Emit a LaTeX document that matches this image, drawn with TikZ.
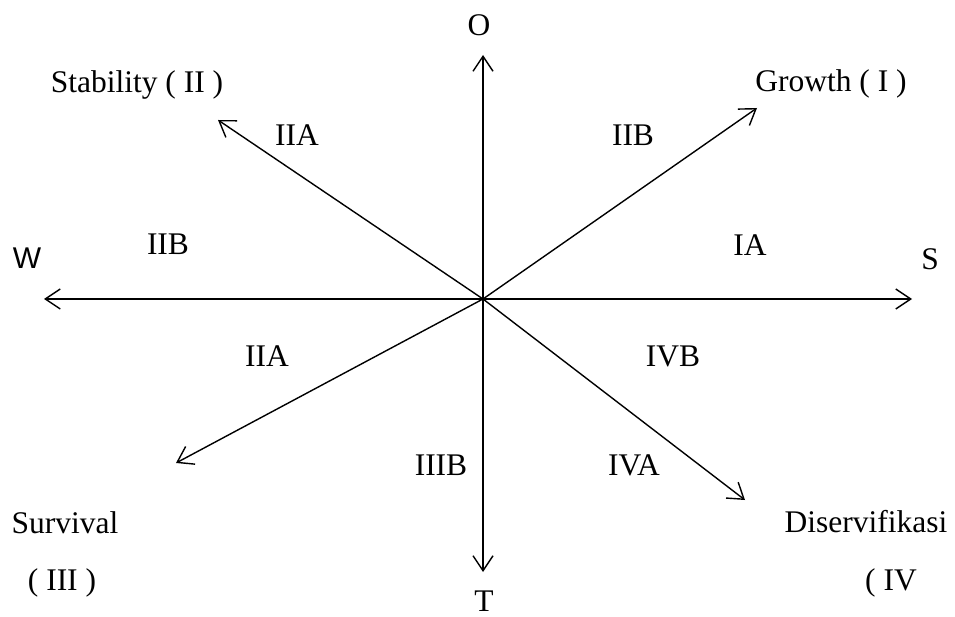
\documentclass[tikz,border=0pt]{standalone}
\usepackage{fontspec}
\setmainfont{Liberation Serif}
\newfontfamily\wsans{Liberation Sans}
\usetikzlibrary{arrows.meta}
\begin{document}
\begin{tikzpicture}[x=1pt,y=-1pt,
  axis/.style={line width=1.4pt,-{Straight Barb[length=15pt,width=20pt,line width=1.4pt]}},
  lbl/.style={anchor=base,inner sep=0pt,font=\fontsize{31.5}{38}\selectfont}]
\useasboundingbox (0,0) rectangle (955,617);
\coordinate (c) at (483,299);
\coordinate (eW) at (44,299);
\coordinate (eS) at (912,299);
\coordinate (eO) at (483,55);
\coordinate (eT) at (483,572);
\coordinate (eI) at (757,108);
\coordinate (eII) at (218,120);
\coordinate (eIII) at (176,463);
\coordinate (eIV) at (745,500);
\draw[axis] (c) -- (eW);
\draw[axis] (c) -- (eS);
\draw[axis] (c) -- (eO);
\draw[axis] (c) -- (eT);
\draw[axis] (c) -- (eI);
\draw[axis] (c) -- (eII);
\draw[axis] (c) -- (eIII);
\draw[axis] (c) -- (eIV);
\node[lbl] (lO) at (479,36) {O};
\node[lbl] (lT) at (484,611) {T};
\node[lbl,font=\fontsize{30}{36}\selectfont\wsans] (lW) at (27,269) {W};
\node[lbl] (lS) at (930,270) {S};
\node[lbl] (lStab) at (137,93) {Stability ( II )};
\node[lbl] (lGrow) at (831,92) {Growth ( I )};
\node[lbl] (lSurv) at (65,533) {Survival};
\node[lbl] (lSurv2) at (62,590) {( III )};
\node[lbl] (lDis) at (866,532) {Diservifikasi};
\node[lbl] (lDis2) at (891,590) {( IV};
\node[lbl] (q1) at (297,146) {IIA};
\node[lbl] (q2) at (633,146) {IIB};
\node[lbl] (q3) at (168,255) {IIB};
\node[lbl] (q4) at (750,256) {IA};
\node[lbl] (q5) at (267,366) {IIA};
\node[lbl] (q6) at (673,366) {IVB};
\node[lbl] (q7) at (441,475) {IIIB};
\node[lbl] (q8) at (634,475) {IVA};
\end{tikzpicture}
\end{document}
